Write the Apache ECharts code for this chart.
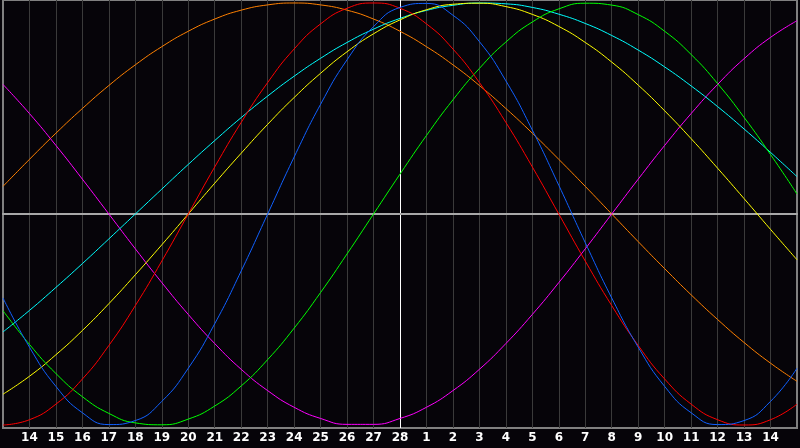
<!DOCTYPE html>
<html>
<head>
<meta charset="utf-8">
<script src="https://cdn.jsdelivr.net/npm/echarts@6/dist/echarts.min.js"></script>
<style>
html,body{margin:0;padding:0;background:#060409;}
#chart{width:800px;height:448px;}
</style>
</head>
<body>
<div id="chart"></div>
<script>
// Day labels (Feb 13 .. Mar 15); first and last are at the plot edges
const dayLabels = ['13','14','15','16','17','18','19','20','21','22','23','24','25','26','27','28',
  '1','2','3','4','5','6','7','8','9','10','11','12','13','14','15'];
const centerDayIndex = 15; // '28'

// Curve values per day
const blue23 = [-0.398,-0.631,-0.817,-0.942,-0.998,-0.979,-0.888,-0.731,-0.520,-0.270,0,0.270,0.520,0.731,0.888,0.979,0.998,0.942,0.817,0.631,0.398,0.136,-0.136,-0.398,-0.631,-0.817,-0.942,-0.998,-0.979,-0.888,-0.731];
const red28 = [-1,-0.975,-0.901,-0.782,-0.623,-0.434,-0.223,0,0.223,0.434,0.623,0.782,0.901,0.975,1,0.975,0.901,0.782,0.623,0.434,0.223,0,-0.223,-0.434,-0.623,-0.782,-0.901,-0.975,-1,-0.975,-0.901];
const green33 = [-0.458,-0.618,-0.756,-0.866,-0.945,-0.990,-0.999,-0.972,-0.910,-0.815,-0.690,-0.541,-0.372,-0.189,0,0.189,0.372,0.541,0.690,0.815,0.910,0.972,0.999,0.990,0.945,0.866,0.756,0.618,0.458,0.282,0.095];
const magenta38 = [0.614,0.476,0.325,0.165,0,-0.165,-0.325,-0.476,-0.614,-0.736,-0.837,-0.916,-0.969,-0.997,-0.997,-0.969,-0.916,-0.837,-0.736,-0.614,-0.476,-0.325,-0.165,0,0.165,0.325,0.476,0.614,0.736,0.837,0.916];
const yellow43 = [-0.854,-0.769,-0.667,-0.552,-0.425,-0.288,-0.146,0,0.146,0.288,0.425,0.552,0.667,0.769,0.854,0.920,0.968,0.994,0.999,0.983,0.946,0.889,0.813,0.720,0.611,0.489,0.357,0.217,0.073,-0.073,-0.217];
const orange48 = [0.131,0.259,0.383,0.5,0.609,0.707,0.793,0.866,0.924,0.966,0.991,1,0.991,0.966,0.924,0.866,0.793,0.707,0.609,0.5,0.383,0.259,0.131,0,-0.131,-0.259,-0.383,-0.5,-0.609,-0.707,-0.793];
const cyan53 = [-0.559,-0.457,-0.348,-0.235,-0.118,0,0.118,0.235,0.348,0.457,0.559,0.653,0.738,0.813,0.876,0.927,0.965,0.989,1.000,0.996,0.979,0.947,0.903,0.846,0.777,0.697,0.607,0.509,0.403,0.292,0.177];

const yLimit = 1.0142;

const seriesDefs = [
  {name:'48', data: orange48, color:'#ff8000'},
  {name:'38', data: magenta38, color:'#ff00ff'},
  {name:'53', data: cyan53, color:'#00ffff'},
  {name:'43', data: yellow43, color:'#ffff00'},
  {name:'33', data: green33, color:'#00ff00'},
  {name:'28', data: red28, color:'#ff0000'},
  {name:'23', data: blue23, color:'#1060ff'}
];

// first (edge) split line is skipped, so colours start at index 1
const vLineColors = dayLabels.slice(1).map((_, i) => (i + 1) === centerDayIndex ? '#ffffff' : '#3a3a3a');

const chart = echarts.init(document.getElementById('chart'), null, {renderer:'canvas'});
chart.setOption({
  backgroundColor: '#060409',
  animation: false,
  grid: {left: 0, right: 0, top: 0, bottom: 20, show: true, borderColor: '#808080', borderWidth: 2, backgroundColor: 'transparent'},
  xAxis: {
    type: 'category',
    data: dayLabels,
    boundaryGap: false,
    axisLine: {show: true, lineStyle: {color: '#a8a8a8', width: 2}},
    axisTick: {show: false},
    axisLabel: {
      interval: 0,
      color: '#ffffff',
      fontFamily: 'DejaVu Sans',
      fontWeight: 'bold',
      fontSize: 12,
      margin: 4,
      formatter: (v, i) => (i === 0 || i === dayLabels.length - 1) ? '' : v
    },
    splitLine: {show: true, interval: 0, showMinLine: false, showMaxLine: false, lineStyle: {color: vLineColors, width: 1}}
  },
  yAxis: {
    type: 'value',
    min: -yLimit,
    max: yLimit,
    interval: yLimit,
    axisLine: {show: false},
    axisTick: {show: false},
    axisLabel: {show: false},
    splitLine: {show: true, showMinLine: false, showMaxLine: false, lineStyle: {color: '#ffffff', width: 1}}
  },
  series: seriesDefs.map(s => ({
    name: s.name,
    type: 'line',
    data: s.data,
    smooth: 0.5,
    symbol: 'none',
    lineStyle: {color: s.color, width: 1},
    itemStyle: {color: s.color}
  }))
});
</script>
</body>
</html>
